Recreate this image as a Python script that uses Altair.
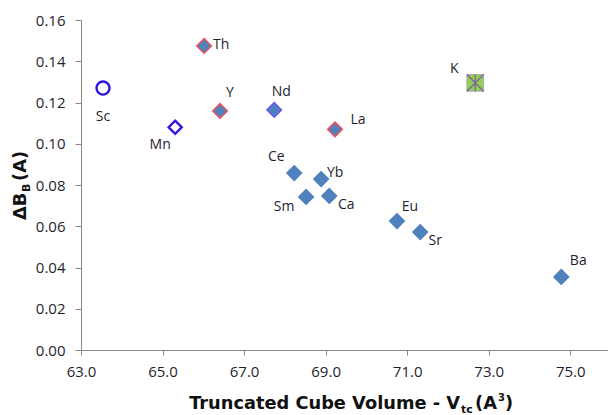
import altair as alt
import pandas as pd

# ---- data ----
elements = ["Sc", "Mn", "Th", "Y", "Nd", "La", "K", "Ce", "Yb", "Sm", "Ca", "Eu", "Sr", "Ba"]
volume = [63.54, 65.31, 66.02, 66.41, 67.74, 69.23, 72.67, 68.23, 68.89, 68.52, 69.09, 70.75, 71.32, 74.78]
delta_b = [0.127, 0.108, 0.1474, 0.1159, 0.1164, 0.107, 0.1295, 0.0858, 0.0829, 0.0742, 0.0747, 0.0625, 0.0572, 0.0354]
marker = ["circle", "open", "red", "red", "blue", "red", "star", "plain", "plain", "plain", "plain", "plain", "plain", "plain"]

x_ticks = [63, 65, 67, 69, 71, 73, 75]
y_ticks = [0.0, 0.02, 0.04, 0.06, 0.08, 0.10, 0.12, 0.14, 0.16]

# ---- label placement (pixel offsets from marker centre) ----
label_dx = [0, -15, 17, 10, 7, 23, -21, -18, 14, -22, 17, 13, 15, 17]
label_dy = [29, 18, -1, -18, -18, -9, -14, -16, -6, 10, 9, -14, 9, -16]

W, H = 527, 330
X_DOM = [63, 63 + W / 40.77]
Y_DOM = [0, 0.16]
px_x = (X_DOM[1] - X_DOM[0]) / W
px_y = (Y_DOM[1] - Y_DOM[0]) / H

df = pd.DataFrame({"el": elements, "vol": volume, "db": delta_b, "marker": marker})
df["lx"] = df["vol"] + pd.Series(label_dx) * px_x
df["ly"] = df["db"] - pd.Series(label_dy) * px_y

FONT = "Open Sans"
TITLE_FONT = "DejaVu Sans"
BLUE = "#4F81BD"

xs = alt.Scale(domain=X_DOM, nice=False, zero=False)
ys = alt.Scale(domain=Y_DOM, nice=False)

x_enc = alt.X("vol:Q", scale=xs, axis=alt.Axis(values=x_ticks, format=".1f", title=None, labelFlush=False,
                                                 grid=False, tickSize=5, labelPadding=9))
y_enc = alt.Y("db:Q", scale=ys, axis=alt.Axis(values=y_ticks, format=".2f", title=None, labelFlush=False,
                                                grid=False, tickSize=6, labelPadding=10))

base = alt.Chart(df)

diamonds = base.mark_point(shape="diamond", filled=True, size=210, strokeWidth=1.6, opacity=1).encode(
    x=x_enc, y=y_enc,
    color=alt.value(BLUE),
    stroke=alt.Stroke("marker:N", scale=alt.Scale(domain=["plain", "red", "blue"],
                                                   range=[BLUE, "#E8505A", "#6A5CE8"]), legend=None),
).transform_filter(alt.FieldOneOfPredicate(field="marker", oneOf=["plain", "red", "blue"]))

circle = base.mark_point(shape="circle", filled=False, size=170, strokeWidth=2.4, color="#2D14E0", opacity=1).encode(
    x="vol:Q", y="db:Q").transform_filter(alt.datum.marker == "circle")

open_d = base.mark_point(shape="diamond", filled=False, size=170, strokeWidth=2.4, color="#2D14E0", opacity=1).encode(
    x="vol:Q", y="db:Q").transform_filter(alt.datum.marker == "open")

square = base.mark_point(shape="square", filled=True, size=280, color="#92D050", stroke="#A898B8",
                         strokeWidth=0.8, opacity=1).encode(
    x="vol:Q", y="db:Q").transform_filter(alt.datum.marker == "star")

star = base.mark_point(shape="M0,-1L0,1M-1,-1L1,1M-1,1L1,-1", filled=False, size=280, color="#8064A2",
                       strokeWidth=1.3, opacity=1).encode(
    x="vol:Q", y="db:Q").transform_filter(alt.datum.marker == "star")

labels = base.mark_text(font=FONT, fontSize=14, color="#1E1E2E", align="center", baseline="middle").encode(
    x="lx:Q", y="ly:Q", text="el:N")


def title_piece(txt, x, y, size, align="left", angle=0):
    kw = dict(text=txt, font=TITLE_FONT, fontSize=size, fontWeight="bold", color="#111111",
              align=align, baseline="alphabetic")
    if angle:
        kw["angle"] = angle
    return alt.Chart(alt.Data(values=[{}])).mark_text(**kw).encode(x=alt.value(x), y=alt.value(y))


TS = 17.8
x_title = [
    title_piece("Truncated Cube Volume - V", 379, 389, TS, align="right"),
    title_piece("tc", 380, 393, 11),
    title_piece("(A", 394, 389, TS),
    title_piece("3", 417, 381, 10),
    title_piece(")", 424, 389, TS),
]
y_title = [
    title_piece("\u0394B", -55, 200, TS, angle=270),
    title_piece("B", -51, 172, 11, angle=270),
    title_piece("(A)", -55, 161, TS, angle=270),
]

chart = alt.layer(diamonds, circle, open_d, square, star, labels, *x_title, *y_title).properties(
    width=W, height=H,
    autosize=alt.AutoSizeParams(type="none"),
    padding={"left": 81, "top": 20, "right": 0, "bottom": 65},
    background="white",
).configure_view(stroke=None).configure_axis(
    domainColor="#878787", tickColor="#878787", labelColor="#1E1E2E",
    labelFont=FONT, labelFontSize=15,
)

chart.save("out.html", embed_options={"renderer": "svg", "actions": False})
